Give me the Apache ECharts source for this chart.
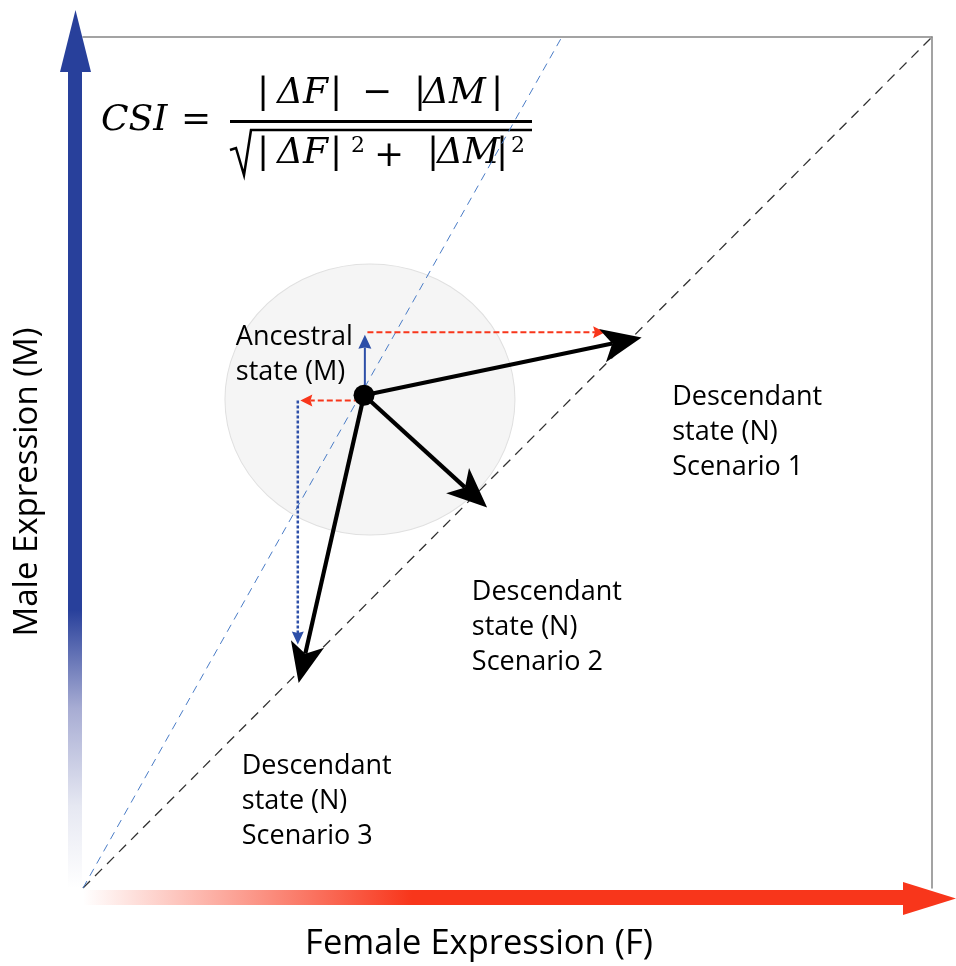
<!DOCTYPE html>
<html>
<head>
<meta charset="utf-8">
<script src="https://cdn.jsdelivr.net/npm/echarts@6/dist/echarts.min.js"></script>
<style>
  html, body { margin: 0; padding: 0; background: #ffffff; }
  #chart { width: 956px; height: 966px; }
</style>
</head>
<body>
<div id="chart"></div>
<script>
// Expression space: female (x) and male (y), both scaled 0..1
const ancestralState = [0.331, 0.579];
const descendantStates = [
  [0.658, 0.647], // scenario 1
  [0.476, 0.447], // scenario 2
  [0.254, 0.241]  // scenario 3
];
// change components [x1, y1, x2, y2]
const deltaFSteps = [
  [0.335, 0.653, 0.615, 0.653],
  [0.326, 0.573, 0.256, 0.573]
];
const deltaMSolid = [[0.332, 0.579, 0.332, 0.650]];
const deltaMDotted = [[0.253, 0.573, 0.253, 0.286]];
// reference lines
const equalExpressionLine = [[0, 0], [1, 1]];
const ancestralRatioLine = [[0, 0], [0.564, 1]];
const neighbourhoodCentre = [0.338, 0.574];

const annotationTexts = [
  'Ancestral\nstate (M)',
  'Descendant\nstate (N)\nScenario 1',
  'Descendant\nstate (N)\nScenario 2',
  'Descendant\nstate (N)\nScenario 3'
];
const xAxisTitle = 'Female Expression (F)';
const yAxisTitle = 'Male Expression (M)';

// layout: top-left anchor of each annotation block (axis units)
const annotationAnchors = [[0.180, 0.668], [0.694, 0.597], [0.458, 0.368], [0.187, 0.164]];

const RED = '#f8361b';
const BLUE = '#28409b';
const LABEL_FONT = '"Open Sans", "Noto Sans", sans-serif';
const MATH_FONT = '"DejaVu Serif", "Liberation Serif", serif';

function arrowRenderer(cfg) {
  return function (params, api) {
    const p1 = api.coord([api.value(0), api.value(1)]);
    const p2 = api.coord([api.value(2), api.value(3)]);
    const dx = p2[0] - p1[0], dy = p2[1] - p1[1];
    const len = Math.sqrt(dx * dx + dy * dy) || 1;
    const ux = dx / len, uy = dy / len;
    const nx = -uy, ny = ux;
    const L = cfg.headLength, W = cfg.headWidth / 2;
    const bx = p2[0] - ux * L, by = p2[1] - uy * L;
    const inner = [p2[0] - ux * L * (1 - cfg.notch), p2[1] - uy * L * (1 - cfg.notch)];
    return {
      type: 'group',
      children: [
        {
          type: 'line',
          shape: { x1: p1[0], y1: p1[1], x2: inner[0], y2: inner[1] },
          style: { stroke: cfg.color, lineWidth: cfg.lineWidth, lineDash: cfg.dash || null, fill: null }
        },
        {
          type: 'polygon',
          shape: { points: [p2, [bx + nx * W, by + ny * W], inner, [bx - nx * W, by - ny * W]] },
          style: { fill: cfg.color }
        }
      ]
    };
  };
}

function arrowSeries(name, data, cfg, z) {
  return {
    name: name,
    type: 'custom',
    coordinateSystem: 'cartesian2d',
    clip: false,
    z: z,
    silent: true,
    encode: { x: [0, 2], y: [1, 3] },
    data: data,
    renderItem: arrowRenderer(cfg)
  };
}

const descendantArrows = descendantStates.map(d => [ancestralState[0], ancestralState[1], d[0], d[1]]);

const chart = echarts.init(document.getElementById('chart'), null, { renderer: 'canvas' });

function mathText(x, y, text, size, italic, align) {
  return {
    type: 'text', x: x, y: y,
    style: {
      text: text,
      font: (italic ? 'italic ' : '') + size + 'px ' + MATH_FONT,
      fill: '#000000',
      align: align || 'left',
      verticalAlign: 'middle'
    }
  };
}

const option = {
  backgroundColor: '#ffffff',
  animation: false,
  grid: { left: 83, top: 37, width: 849, height: 851, containLabel: false },
  xAxis: {
    type: 'value', min: 0, max: 1, position: 'top',
    axisLine: { show: true, onZero: false, lineStyle: { color: '#858585', width: 1.5 } },
    axisTick: { show: false }, axisLabel: { show: false }, splitLine: { show: false }
  },
  yAxis: {
    type: 'value', min: 0, max: 1, position: 'right',
    axisLine: { show: true, onZero: false, lineStyle: { color: '#858585', width: 1.5 } },
    axisTick: { show: false }, axisLabel: { show: false }, splitLine: { show: false }
  },
  series: [
    {
      name: 'neighbourhood',
      type: 'scatter',
      z: 1,
      silent: true,
      symbol: 'circle',
      symbolSize: [290, 271],
      itemStyle: { color: '#f5f5f5', borderColor: '#e0e0e0', borderWidth: 1, opacity: 1 },
      data: [neighbourhoodCentre]
    },
    {
      name: 'F = M',
      type: 'line',
      z: 2,
      silent: true,
      showSymbol: false,
      symbol: 'none',
      lineStyle: { color: '#333333', width: 1.3, type: [10, 7] },
      data: equalExpressionLine
    },
    {
      name: 'ancestral ratio',
      type: 'line',
      z: 2,
      silent: true,
      showSymbol: false,
      symbol: 'none',
      lineStyle: { color: '#4a7cc6', width: 1, type: [8, 6] },
      data: ancestralRatioLine
    },
    arrowSeries('ΔF', deltaFSteps, { color: RED, lineWidth: 2, dash: [6, 3], headLength: 12, headWidth: 12, notch: 0.15 }, 3),
    arrowSeries('ΔM', deltaMSolid, { color: '#2d4fa8', lineWidth: 2, headLength: 14, headWidth: 13, notch: 0.1 }, 3),
    arrowSeries('ΔM dotted', deltaMDotted, { color: '#2d4fa8', lineWidth: 2.5, dash: [3, 2], headLength: 13, headWidth: 12, notch: 0.1 }, 3),
    arrowSeries('descendant', descendantArrows, { color: '#000000', lineWidth: 4.2, headLength: 40, headWidth: 34, notch: 0.25 }, 4),
    {
      name: 'ancestral',
      type: 'scatter',
      z: 5,
      silent: true,
      symbolSize: 21,
      itemStyle: { color: '#000000', opacity: 1 },
      data: [ancestralState]
    },
    {
      name: 'annotations',
      type: 'scatter',
      z: 6,
      silent: true,
      symbolSize: 0,
      itemStyle: { opacity: 1 },
      data: annotationTexts.map((t, i) => ({ value: annotationAnchors[i], name: t })),
      label: {
        show: true,
        position: [0, 0],
        align: 'left',
        verticalAlign: 'top',
        formatter: p => p.name,
        color: '#000000',
        fontFamily: LABEL_FONT,
        fontSize: 27,
        lineHeight: 35
      }
    }
  ],
  graphic: [
    // vertical axis arrow (male)
    {
      type: 'rect', z: 10, silent: true,
      shape: { x: 68, y: 70, width: 14, height: 818 },
      style: {
        fill: new echarts.graphic.LinearGradient(0, 0, 0, 1, [
          { offset: 0, color: BLUE },
          { offset: 0.66, color: BLUE },
          { offset: 0.78, color: '#a7acd3' },
          { offset: 0.9, color: '#e6e8f2' },
          { offset: 1, color: '#ffffff' }
        ])
      }
    },
    {
      type: 'polygon', z: 10, silent: true,
      shape: { points: [[60, 72], [91, 72], [75.5, 10]] },
      style: { fill: BLUE }
    },
    // horizontal axis arrow (female)
    {
      type: 'rect', z: 10, silent: true,
      shape: { x: 83, y: 890, width: 822, height: 15 },
      style: {
        fill: new echarts.graphic.LinearGradient(0, 0, 1, 0, [
          { offset: 0, color: '#ffffff' },
          { offset: 0.4, color: RED },
          { offset: 1, color: RED }
        ])
      }
    },
    {
      type: 'polygon', z: 10, silent: true,
      shape: { points: [[903, 882], [903, 915], [956, 898.5]] },
      style: { fill: RED }
    },
    // axis titles
    {
      type: 'text', z: 10, silent: true,
      x: 479, y: 944,
      style: { text: xAxisTitle, fontFamily: LABEL_FONT, fontSize: 34.5, fill: '#000000', align: 'center', verticalAlign: 'middle' }
    },
    {
      type: 'text', z: 10, silent: true,
      x: 28, y: 482, rotation: Math.PI / 2,
      style: { text: yAxisTitle, fontFamily: LABEL_FONT, fontSize: 33, fill: '#000000', align: 'center', verticalAlign: 'middle' }
    },
    // CSI formula
    {
      type: 'group', z: 10, silent: true,
      children: [
        mathText(101, 121, 'CSI', 36, true),
        mathText(196, 121, '=', 36, false, 'center'),
        { type: 'rect', shape: { x: 230, y: 120, width: 302, height: 3 }, style: { fill: '#000' } },
        // numerator
        mathText(263, 94, '|', 36, false, 'center'),
        mathText(277, 94, 'ΔF', 36, true),
        mathText(336, 94, '|', 36, false, 'center'),
        mathText(377, 94, '−', 36, false, 'center'),
        mathText(420, 94, '|', 36, false, 'center'),
        mathText(423, 94, 'ΔM', 36, true),
        mathText(497, 94, '|', 36, false, 'center'),
        // denominator
        { type: 'polyline', shape: { points: [[230, 150], [236, 148], [244, 175], [251, 130], [532, 130]] }, style: { stroke: '#000', lineWidth: 2.5, fill: null } },
        mathText(263, 154, '|', 36, false, 'center'),
        mathText(277, 154, 'ΔF', 36, true),
        mathText(336, 154, '|', 36, false, 'center'),
        mathText(351, 146, '2', 22, false),
        mathText(389, 157, '+', 36, false, 'center'),
        mathText(433, 154, '|', 36, false, 'center'),
        mathText(437, 154, 'ΔM', 36, true),
        mathText(502, 154, '|', 36, false, 'center'),
        mathText(511, 146, '2', 22, false)
      ]
    }
  ]
};

chart.setOption(option);
</script>
</body>
</html>
